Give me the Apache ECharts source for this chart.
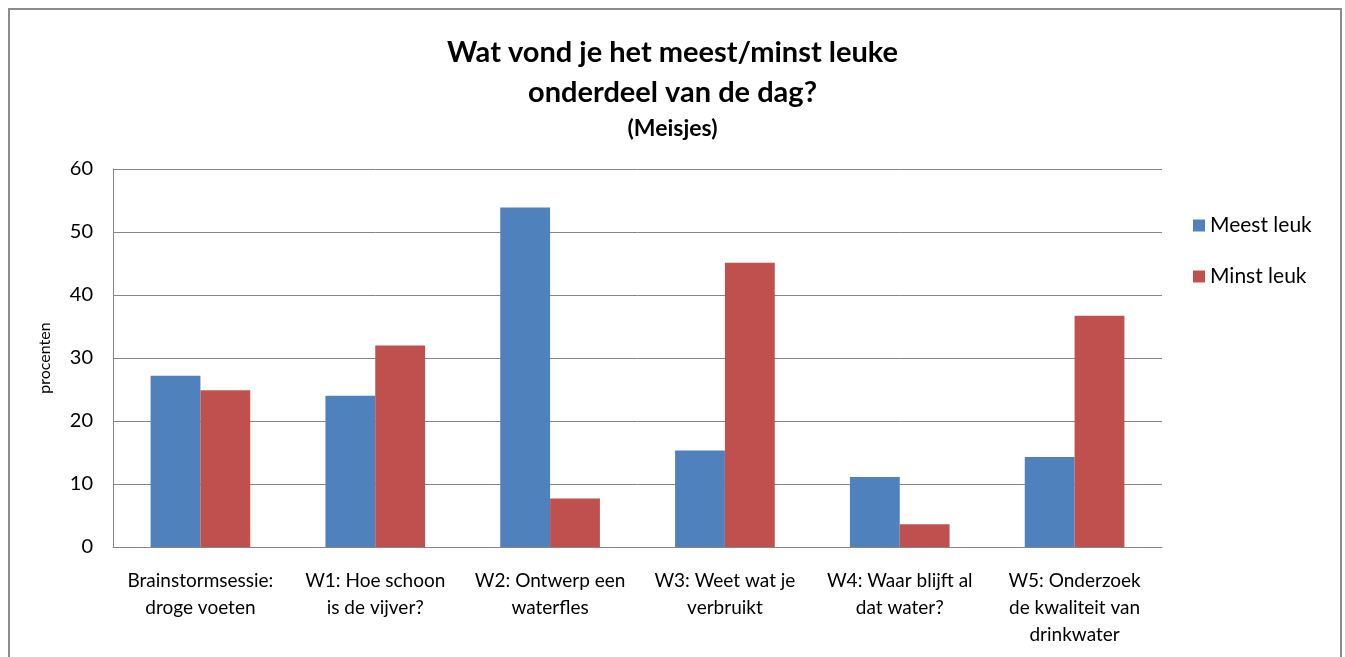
<!DOCTYPE html>
<html>
<head>
<meta charset="utf-8">
<script src="https://cdn.jsdelivr.net/npm/echarts@6/dist/echarts.min.js"></script>
<style>
  html, body { margin: 0; padding: 0; background: #fff; }
  #main { width: 1345px; height: 657px; }
</style>
</head>
<body>
<div id="main"></div>
<script>
// onderdelen van de dag
var categories = [
  "Brainstormsessie:\ndroge voeten",
  "W1: Hoe schoon\nis de vijver?",
  "W2: Ontwerp een\nwaterfles",
  "W3: Weet wat je\nverbruikt",
  "W4: Waar blijft al\ndat water?",
  "W5: Onderzoek\nde kwaliteit van\ndrinkwater"
];
var meestLeuk = [27.2, 24.0, 53.9, 15.3, 11.1, 14.3];
var minstLeuk = [24.9, 32.0, 7.7, 45.1, 3.6, 36.7];
var yTicks = { min: 0, max: 60, interval: 10 };

var fontName = "Lato, 'Noto Sans', sans-serif";

var myChart = echarts.init(document.getElementById("main"));
var option = {
  animation: false,
  backgroundColor: "#fff",
  textStyle: { fontFamily: fontName },
  graphic: [
    {
      type: "rect",
      shape: { x: 9, y: 9, width: 1332, height: 700 },
      style: { fill: "none", stroke: "#8c8c8c", lineWidth: 2 },
      silent: true
    }
  ],
  title: {
    text: "Wat vond je het meest/minst leuke\nonderdeel van de dag?",
    subtext: "(Meisjes)",
    left: "center",
    top: 28,
    itemGap: 4,
    textStyle: {
      fontFamily: fontName,
      fontSize: 29,
      fontWeight: "bold",
      color: "#000",
      lineHeight: 40
    },
    subtextStyle: {
      fontFamily: fontName,
      fontSize: 23,
      fontWeight: "bold",
      color: "#000"
    }
  },
  legend: {
    orient: "vertical",
    left: 1188,
    top: 210,
    itemWidth: 12,
    itemHeight: 12,
    itemGap: 30,
    icon: "rect",
    textStyle: { fontFamily: fontName, fontSize: 21, color: "#000" },
    data: ["Meest leuk", "Minst leuk"]
  },
  grid: {
    left: 113,
    top: 169,
    width: 1049,
    height: 378,
    containLabel: false
  },
  xAxis: {
    type: "category",
    data: categories,
    axisTick: { show: false },
    axisLine: { lineStyle: { color: "#868686", width: 1 } },
    axisLabel: {
      interval: 0,
      margin: 20,
      fontFamily: fontName,
      fontSize: 19,
      lineHeight: 27,
      color: "#000"
    }
  },
  yAxis: {
    type: "value",
    min: yTicks.min,
    max: yTicks.max,
    interval: yTicks.interval,
    name: "procenten",
    nameLocation: "middle",
    nameGap: 60,
    nameTextStyle: { fontFamily: fontName, fontSize: 16, color: "#000" },
    axisLine: { show: true, lineStyle: { color: "#868686", width: 1 } },
    axisTick: { show: false },
    splitLine: { lineStyle: { color: "#868686", width: 1 } },
    axisLabel: {
      margin: 20,
      fontFamily: fontName,
      fontSize: 20,
      color: "#000"
    }
  },
  series: [
    {
      name: "Meest leuk",
      type: "bar",
      data: meestLeuk,
      barGap: "0%",
      barCategoryGap: "43%",
      itemStyle: { color: "#4F81BD" }
    },
    {
      name: "Minst leuk",
      type: "bar",
      data: minstLeuk,
      itemStyle: { color: "#C0504D" }
    }
  ]
};
myChart.setOption(option);
</script>
</body>
</html>
